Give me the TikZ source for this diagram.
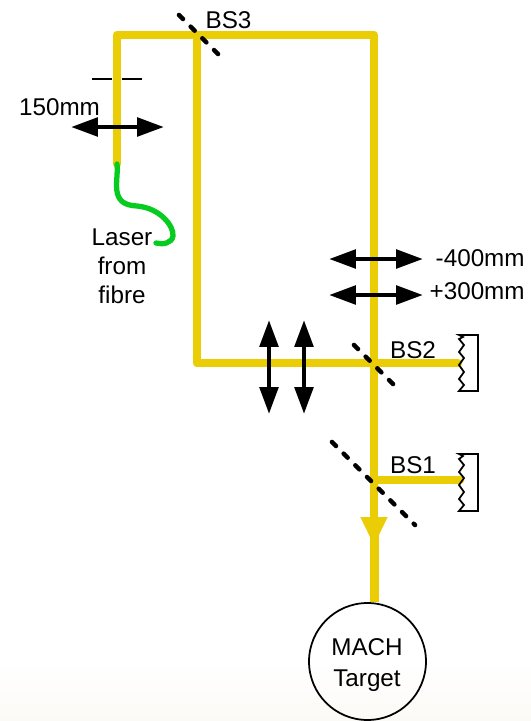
\documentclass[tikz,border=0pt]{standalone}
\usepackage{fontspec}
\setmainfont{Liberation Sans}
\usepackage{xcolor}
\usetikzlibrary{positioning, arrows.meta}
\definecolor{beamyellow}{HTML}{EBCD05}
\definecolor{fibregreen}{HTML}{05CC1E}
\definecolor{floorcream}{HTML}{FCFAF6}

\begin{document}
\begin{tikzpicture}[x=0.02cm, y=-0.02cm,
    every node/.style={font=\fontsize{13.8}{16.4}\selectfont, inner sep=0pt, align=center},
    beam/.style={line width=5pt, beamyellow, line join=round, line cap=round},
    fibre/.style={line width=3pt, fibregreen, line cap=round},
    lensarrow/.style={line width=2.6pt, black, {Triangle[length=15.3pt, width=10.4pt]}-{Triangle[length=15.3pt, width=10.4pt]}},
    splitter/.style={line width=2.6pt, black, line cap=round, dash pattern=on 3.2pt off 6.2pt},
    stopbar/.style={line width=1.4pt, black},
    dump/.style={line width=1pt, black, line join=miter}]
    \useasboundingbox (0,0) rectangle (531,721);

    % Faint fade at the foot of the page
    \shade[top color=white, bottom color=floorcream, draw=none] (0,660) rectangle (531,721);

    % Target
    \node[circle, draw=black, line width=1pt, minimum size=2.34cm] (target) at (367.5,661.5) {};
    \node[font=\fontsize{13.8}{17.6}\selectfont] (targetlabel) at (367,665) {MACH\\Target};

    % Points along the beam
    \coordinate (fibreend) at (117,164);
    \coordinate (cornerA) at (117,35);
    \coordinate (cornerB) at (374,35);
    \coordinate (bsthree) at (197,35);
    \coordinate (cornerC) at (197,363);
    \coordinate (bstwo) at (374,363);
    \coordinate (dumpinA) at (458,363);
    \coordinate (bsone) at (374,480);
    \coordinate (dumpinB) at (460,480);
    \coordinate (headtip) at (374,546);
    \coordinate (stem) at (374.5,530);

    % Draw the beams
    \draw[beam] (fibreend) -- (cornerA) -- (cornerB) -- (bsone);
    \draw[beam] (bsthree) -- (cornerC) -- (bstwo) -- (dumpinA);
    \draw[beam] (bsone) -- (dumpinB);
    \draw[beam, line cap=butt, -{Triangle[length=16.5pt, width=14.2pt]}] (bsone) -- (headtip);
    \draw[beam, line cap=butt] (stem) -- (stem |- target.north);

    % Fibre
    \draw[fibre] (fibreend) .. controls (119,180) and (108,205) .. (137,206)
        .. controls (160,208) and (174,226) .. (173,236)
        .. controls (172,243) and (163,245) .. (156,243);

    % Aperture
    \coordinate (stopA) at (92,79);
    \coordinate (stopB) at (112,79);
    \coordinate (stopC) at (122,79);
    \coordinate (stopD) at (142,79);
    \draw[stopbar] (stopA) -- (stopB);
    \draw[stopbar] (stopC) -- (stopD);

    % Lenses
    \coordinate (lensAl) at (71,127);
    \coordinate (lensAr) at (164,127);
    \coordinate (lensBl) at (329,259);
    \coordinate (lensBr) at (423,259);
    \coordinate (lensCl) at (329,295);
    \coordinate (lensCr) at (423,295);
    \coordinate (lensDt) at (269,320);
    \coordinate (lensDb) at (269,414);
    \coordinate (lensEt) at (304,320);
    \coordinate (lensEb) at (304,414);
    \draw[lensarrow] (lensAl) -- (lensAr);
    \draw[lensarrow] (lensBl) -- (lensBr);
    \draw[lensarrow] (lensCl) -- (lensCr);
    \draw[lensarrow] (lensDt) -- (lensDb);
    \draw[lensarrow] (lensEt) -- (lensEb);

    % Beam splitters
    \coordinate (bsthreeA) at (179,15);
    \coordinate (bsthreeB) at (221,57);
    \coordinate (bstwoA) at (354,345);
    \coordinate (bstwoB) at (397,388);
    \coordinate (bsoneA) at (332,442);
    \coordinate (bsoneB) at (415,525);
    \draw[splitter] (bsthreeA) -- (bsthreeB);
    \draw[splitter] (bstwoA) -- (bstwoB);
    \draw[splitter] (bsoneA) -- (bsoneB);

    % Beam dumps
    \draw[dump] (459,335) -- (478,335) -- (478,391) -- (459,391)
        -- (464,385) -- (459,379) -- (464,372) -- (459,365) -- (464,358)
        -- (459,352) -- (464,345) -- (459,339) -- (463,337) -- cycle;
    \draw[dump] (459,454) -- (478,454) -- (478,511) -- (459,511)
        -- (464,505) -- (459,499) -- (464,492) -- (459,485) -- (464,478)
        -- (459,472) -- (464,465) -- (459,459) -- (463,456) -- cycle;

    % Labels
    \node (bsthreelabel) at (228.5,20) {BS3};
    \node (bstwolabel) at (413,350) {BS2};
    \node (bsonelabel) at (413,465) {BS1};
    \node (lensAlabel) at (59.5,107) {150mm};
    \node[anchor=east] (lensBlabel) at (525,258) {-400mm};
    \node[anchor=east] (lensClabel) at (525,291) {+300mm};
    \node (fibrelabel) at (122,266) {Laser\\from\\fibre};
\end{tikzpicture}
\end{document}
